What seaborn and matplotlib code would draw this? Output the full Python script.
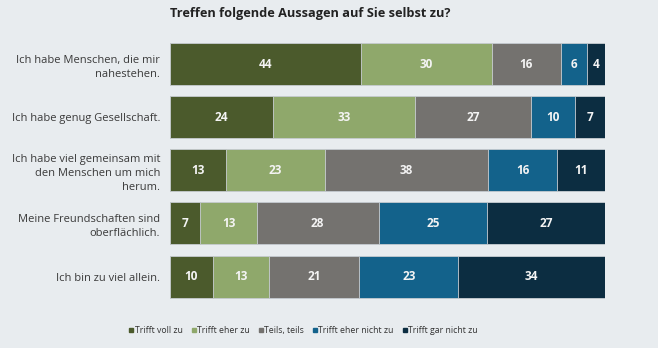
import numpy as np
import pandas as pd
import matplotlib
matplotlib.use("Agg")
import matplotlib.pyplot as plt
import seaborn as sns
from matplotlib.lines import Line2D

categories = [
    "Ich habe Menschen, die mir\nnahestehen.",
    "Ich habe genug Gesellschaft.",
    "Ich habe viel gemeinsam mit\nden Menschen um mich\nherum.",
    "Meine Freundschaften sind\noberflächlich.",
    "Ich bin zu viel allein.",
]
series = ["Trifft voll zu", "Trifft eher zu", "Teils, teils", "Trifft eher nicht zu", "Trifft gar nicht zu"]
trifft_voll = [44, 24, 13, 7, 10]
trifft_eher = [30, 33, 23, 13, 13]
teils = [16, 27, 38, 28, 21]
eher_nicht = [6, 10, 16, 25, 23]
gar_nicht = [4, 7, 11, 27, 34]
colors = ["#4b5a2c", "#8fa86b", "#74726f", "#13628b", "#0c2d41"]
title = "Treffen folgende Aussagen auf Sie selbst zu?"

sns.set_theme(style="white")
plt.rcParams["font.family"] = ["Open Sans", "DejaVu Sans"]
bg = "#e8ecef"

vals = np.array([trifft_voll, trifft_eher, teils, eher_nicht, gar_nicht], dtype=float)
totals = vals.sum(axis=0)
shares = vals / totals * 100
cum = np.cumsum(shares, axis=0)

fig = plt.figure(figsize=(6.58, 3.48), dpi=100, facecolor=bg)
ax = fig.add_axes([0.258, 0.129, 0.661, 0.763])
ax.set_facecolor(bg)

for i in range(len(series) - 1, -1, -1):
    df = pd.DataFrame({"cat": categories, "val": cum[i]})
    sns.barplot(data=df, x="val", y="cat", color=colors[i], saturation=1,
                width=0.79, orient="h", ax=ax, edgecolor="#c9ced3", linewidth=0.6)

for j in range(len(categories)):
    for i in range(len(series)):
        start = cum[i - 1][j] if i > 0 else 0
        mid = start + shares[i][j] / 2
        ax.text(mid, j, f"{int(vals[i][j])}", ha="center", va="center",
                color="#f4f4f4", fontsize=8.5, fontweight="bold")

ax.set_xlim(0, 100)
ax.set_ylim(4.5, -0.5)
ax.set_xlabel("")
ax.set_ylabel("")
ax.set_xticks([])
for s in ax.spines.values():
    s.set_visible(False)
ax.tick_params(axis="y", length=0, pad=7, labelsize=8, labelcolor="#3a3a3a")
for lab in ax.get_yticklabels():
    lab.set_horizontalalignment("right")
    lab.set_multialignment("right")
    lab.set_linespacing(1.4)

fig.text(0.258, 0.962, title, ha="left", va="center", fontsize=9.2,
         fontweight="bold", color="#222222")

handles = [Line2D([0], [0], marker="s", linestyle="", markersize=3.5,
                  markerfacecolor=c, markeredgecolor=c) for c in colors]
fig.legend(handles, series, loc="center", bbox_to_anchor=(0.461, 0.05),
           ncol=5, frameon=False, handletextpad=0.05,
           columnspacing=1.0, handlelength=0.6, labelcolor="#333333",
           fontsize=6.3)

fig.savefig("out.png", dpi=100, facecolor=bg)
